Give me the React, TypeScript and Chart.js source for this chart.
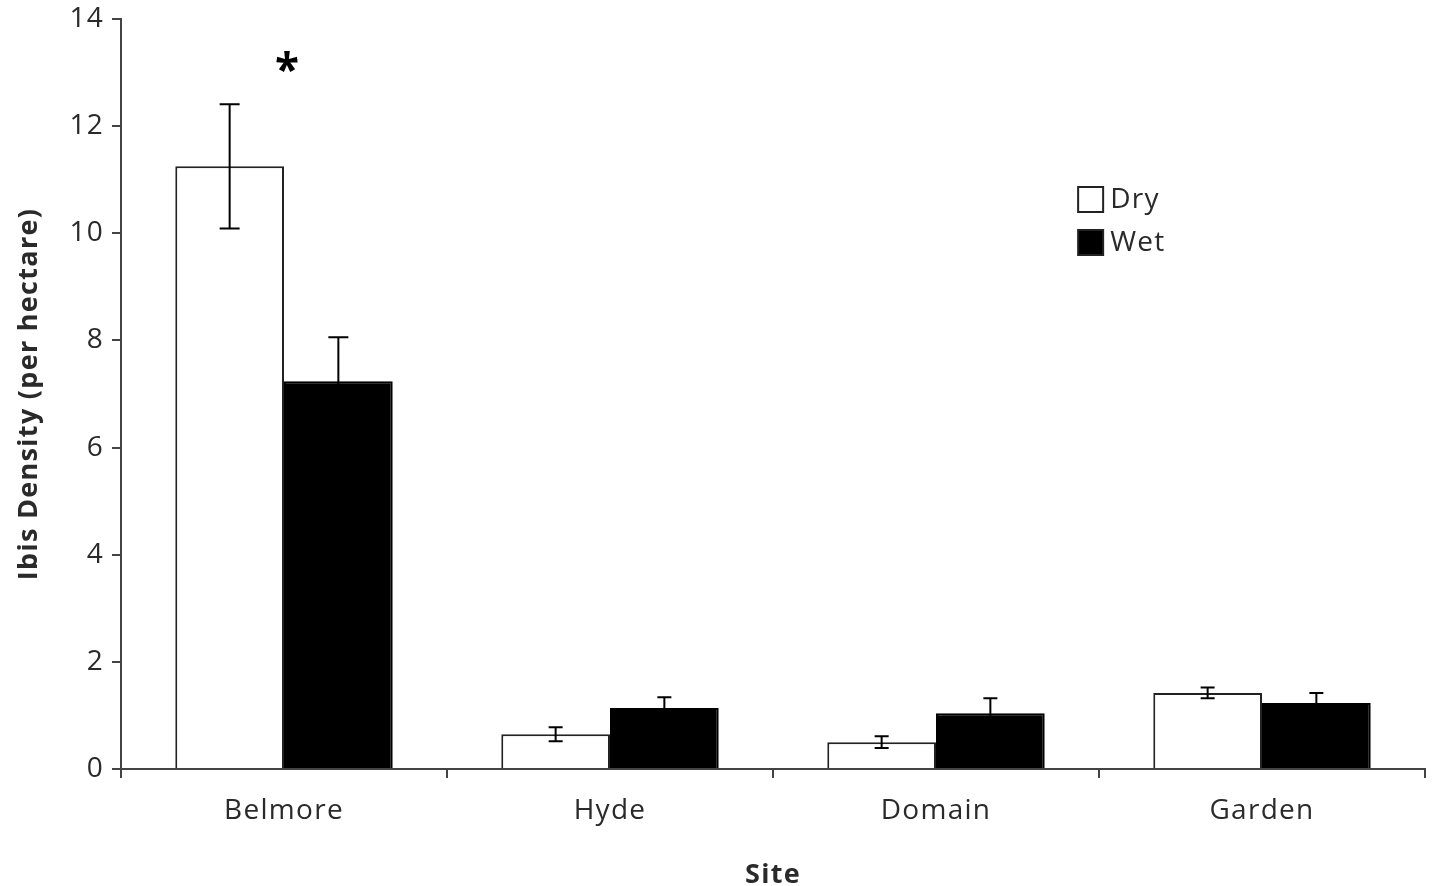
import React, { useEffect, useRef } from "react";
import { Chart, registerables } from "chart.js";

Chart.register(...registerables);

const sites = ["Belmore", "Hyde", "Domain", "Garden"];
const dryValues = [11.25, 0.65, 0.5, 1.42];
const dryErrors = [1.16, 0.13, 0.11, 0.1];
const wetValues = [7.24, 1.14, 1.04, 1.23];
const wetErrors = [0.82, 0.2, 0.28, 0.19];
const yTicks = [0, 2, 4, 6, 8, 10, 12, 14];
const seriesNames = ["Dry", "Wet"];
const significance = ["*", "", "", ""];

const FONT = "'Open Sans', 'DejaVu Sans', sans-serif";
const TEXT = "#2a2a2a";
const AXIS = "#444444";

export default function App() {
  const ref = useRef<HTMLCanvasElement>(null);
  useEffect(() => {
    document.body.style.margin = "0";
    const errs = [dryErrors, wetErrors];
    const spacingPlugin = {
      id: "spacing",
      beforeLayout(chart: any) {
        chart.ctx.letterSpacing = "1.3px";
      },
      beforeDraw(chart: any) {
        chart.ctx.letterSpacing = "1.3px";
      },
    };
    const errorPlugin = {
      id: "errorBars",
      afterDatasetsDraw(chart: any) {
        const ctx = chart.ctx;
        const ys = chart.scales.y;
        ctx.save();
        ctx.strokeStyle = "#000";
        ctx.lineWidth = 2;
        chart.data.datasets.forEach((ds: any, i: number) => {
          const meta = chart.getDatasetMeta(i);
          meta.data.forEach((el: any, j: number) => {
            const v = ds.data[j];
            const e = errs[i][j];
            const top = ys.getPixelForValue(v + e);
            const bot = ys.getPixelForValue(v - e);
            const cap = e > 0.5 ? 10 : 7;
            ctx.beginPath();
            ctx.moveTo(el.x, top);
            ctx.lineTo(el.x, bot);
            ctx.moveTo(el.x - cap, top);
            ctx.lineTo(el.x + cap, top);
            ctx.moveTo(el.x - cap, bot);
            ctx.lineTo(el.x + cap, bot);
            ctx.stroke();
          });
        });
        ctx.letterSpacing = "0px";
        ctx.fillStyle = "#000";
        ctx.font = `bold 44px ${FONT}`;
        ctx.textAlign = "center";
        ctx.textBaseline = "middle";
        significance.forEach((s, j) => {
          if (!s) return;
          const x = chart.scales.x.getPixelForValue(j);
          ctx.fillText(s, x + 3, ys.getPixelForValue(13.0));
        });
        const ca = chart.chartArea;
        const lx = ca.left + (ca.right - ca.left) * 0.734;
        const ly = ca.top + (ca.bottom - ca.top) * 0.224;
        const box = 25;
        const gap = 43;
        ctx.letterSpacing = "1.3px";
        ctx.font = `28px ${FONT}`;
        ctx.textAlign = "left";
        seriesNames.forEach((n, k) => {
          const y = ly + k * gap;
          ctx.lineWidth = 2;
          ctx.strokeStyle = "#222";
          ctx.fillStyle = k === 0 ? "#fff" : "#000";
          ctx.fillRect(lx, y, box, box);
          ctx.strokeRect(lx, y, box, box);
          ctx.fillStyle = TEXT;
          ctx.fillText(n, lx + box + 7, y + box / 2 + 1);
        });
        ctx.restore();
      },
    };
    const chart = new Chart(ref.current!, {
      type: "bar",
      data: {
        labels: sites,
        datasets: [
          {
            label: seriesNames[0],
            data: dryValues,
            backgroundColor: "#ffffff",
            borderColor: "#222222",
            borderWidth: 2,
            categoryPercentage: 0.667,
            barPercentage: 1.0,
          },
          {
            label: seriesNames[1],
            data: wetValues,
            backgroundColor: "#000000",
            borderColor: "#000000",
            borderWidth: 2,
            categoryPercentage: 0.667,
            barPercentage: 1.0,
          },
        ],
      },
      options: {
        animation: false,
        responsive: false,
        devicePixelRatio: 1,
        layout: { padding: { top: 19, right: 7, left: 0, bottom: 0 } },
        plugins: { legend: { display: false }, tooltip: { enabled: false } },
        scales: {
          x: {
            grid: {
              offset: true,
              drawOnChartArea: false,
              drawTicks: true,
              tickLength: 9,
              color: AXIS,
              lineWidth: 2,
            },
            border: { color: AXIS, width: 2 },
            ticks: { color: TEXT, font: { family: FONT, size: 28 }, padding: 16 },
            title: {
              display: true,
              text: "Site",
              color: TEXT,
              font: { family: FONT, size: 27, weight: "bold", lineHeight: 1 },
              padding: { top: 20, bottom: -3 },
            },
            afterFit(s: any) {
              s.height = 117;
              s.paddingLeft = 0;
              s.paddingRight = 0;
            },
          },
          y: {
            min: 0,
            max: 14,
            afterBuildTicks(s: any) {
              s.ticks = yTicks.map((v) => ({ value: v }));
            },
            grid: {
              drawOnChartArea: false,
              drawTicks: true,
              tickLength: 9,
              color: AXIS,
              lineWidth: 2,
            },
            border: { color: AXIS, width: 2 },
            ticks: { color: TEXT, font: { family: FONT, size: 28 }, padding: 8 },
            title: {
              display: true,
              text: "Ibis Density (per hectare)",
              color: TEXT,
              font: { family: FONT, size: 27, weight: "bold", lineHeight: 1 },
              padding: { top: 16, bottom: 8 },
            },
            afterFit(s: any) {
              s.width = 121;
              s.paddingTop = 0;
              s.paddingBottom = 0;
            },
          },
        },
      },
      plugins: [spacingPlugin, errorPlugin],
    });
    return () => chart.destroy();
  }, []);
  return (
    <div style={{ width: 1432, height: 886, background: "#fff" }}>
      <canvas ref={ref} width={1432} height={886} style={{ display: "block" }} />
    </div>
  );
}
